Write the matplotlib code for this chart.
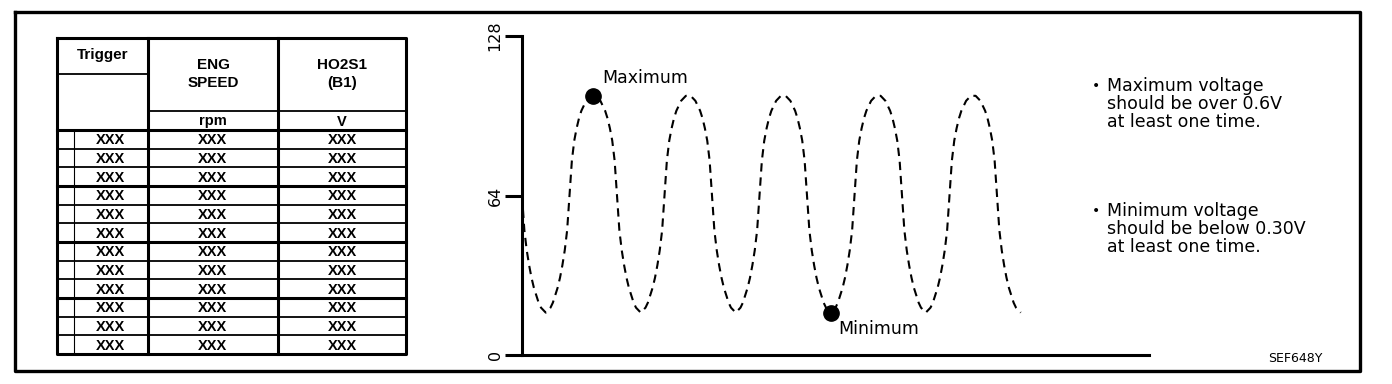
import matplotlib
matplotlib.use("Agg")
import numpy as np
import matplotlib.pyplot as plt

# table contents
headers = ["Trigger", "ENG\nSPEED", "HO2S1\n(B1)"]
units = ["", "rpm", "V"]
rows = [["XXX", "XXX", "XXX"] for _ in range(12)]

# HO2S1 trace, one sample every 0.25 time units
t = np.arange(0, 52.75, 0.25)
v = [
    64, 50, 42, 36, 31, 27, 24, 21, 19, 18, 17, 18, 19, 21, 24, 27, 31, 36, 42, 50,
    64, 78, 86, 91, 95, 98, 100, 102, 103, 104, 104, 104, 103, 102, 100, 98, 95, 91, 86, 78,
    64, 50, 42, 36, 31, 27, 24, 21, 19, 18, 17, 18, 19, 21, 24, 27, 31, 36, 42, 50,
    64, 78, 86, 91, 95, 98, 100, 102, 103, 104, 104, 104, 103, 102, 100, 98, 95, 91, 86, 78,
    64, 50, 42, 36, 31, 27, 24, 21, 19, 18, 17, 18, 19, 21, 24, 27, 31, 36, 42, 50,
    64, 78, 86, 91, 95, 98, 100, 102, 103, 104, 104, 104, 103, 102, 100, 98, 95, 91, 86, 78,
    64, 50, 42, 36, 31, 27, 24, 21, 19, 18, 17, 18, 19, 21, 24, 27, 31, 36, 42, 50,
    64, 78, 86, 91, 95, 98, 100, 102, 103, 104, 104, 104, 103, 102, 100, 98, 95, 91, 86, 78,
    64, 50, 42, 36, 31, 27, 24, 21, 19, 18, 17, 18, 19, 21, 24, 27, 31, 36, 42, 50,
    64, 78, 86, 91, 95, 98, 100, 102, 103, 104, 104, 104, 103, 102, 100, 98, 95, 91, 86, 78,
    64, 50, 42, 36, 31, 27, 24, 21, 19, 18, 17,
]
peak = (7.5, 104)
trough = (32.5, 17)
yticks = [0, 64, 128]

notes = [
    "Maximum voltage\nshould be over 0.6V\nat least one time.",
    "Minimum voltage\nshould be below 0.30V\nat least one time.",
]
fig_code = "SEF648Y"

W, H = 1392, 384
fig = plt.figure(figsize=(W / 100, H / 100), dpi=100)

# background axes in pixel coords for frame, table and notes
bg = fig.add_axes([0, 0, 1, 1])
bg.set_xlim(0, W)
bg.set_ylim(H, 0)
bg.axis("off")

bg.plot([15, 1360, 1360, 15, 15], [12, 12, 371, 371, 12], color="k", lw=2.4)

# table grid
xs = [57, 148, 278, 406]
top, trig_y, unit_y, head_y, bot = 38, 74, 111, 130, 354
rh = (bot - head_y) / len(rows)
thick, thin = 2.2, 1.3

bg.plot([xs[0], xs[-1], xs[-1], xs[0], xs[0]], [top, top, bot, bot, top], color="k", lw=thick)
for x in xs[1:-1]:
    bg.plot([x, x], [top, bot], color="k", lw=thick)
bg.plot([xs[0], xs[1]], [trig_y, trig_y], color="k", lw=thin)
bg.plot([xs[1], xs[-1]], [unit_y, unit_y], color="k", lw=thin)
bg.plot([xs[0], xs[-1]], [head_y, head_y], color="k", lw=thick)
bg.plot([74, 74], [head_y, bot], color="k", lw=0.8)
for i in range(1, len(rows)):
    y = head_y + i * rh
    bg.plot([xs[0], xs[-1]], [y, y], color="k", lw=thick if i % 3 == 0 else thin)

tfont = dict(family="Liberation Sans", weight="bold", color="k")
bg.text((xs[0] + xs[1]) / 2, 55, headers[0], ha="center", va="center", fontsize=11, **tfont)
for j in (1, 2):
    cx = (xs[j] + xs[j + 1]) / 2
    bg.text(cx, 74, headers[j], ha="center", va="center", fontsize=11, linespacing=1.4, **tfont)
    bg.text(cx, (unit_y + head_y) / 2 + 1, units[j], ha="center", va="center", fontsize=10.5, **tfont)

centers = [111, (xs[1] + xs[2]) / 2, (xs[2] + xs[3]) / 2]
for i, row in enumerate(rows):
    cy = head_y + (i + 0.5) * rh + 1
    for cx, val in zip(centers, row):
        bg.text(cx, cy, val, ha="center", va="center", fontsize=10.5, **tfont)

# notes on the right
for y0, note in zip([77, 202], notes):
    bg.text(1092, y0 + 2, "\u2022", ha="left", va="top", fontsize=10)
    bg.text(1107, y0, note, ha="left", va="top", fontsize=12.5, linespacing=1.0)

bg.text(1268, 358, fig_code, ha="left", va="center", fontsize=9)

# signal chart
ax = fig.add_axes([522 / W, (H - 355) / H, (1149 - 522) / W, (355 - 36) / H])
ax.set_xlim(0, 66)
ax.set_ylim(0, 128)
ax.patch.set_alpha(0)
for s in ("top", "right"):
    ax.spines[s].set_visible(False)
for s in ("left", "bottom"):
    ax.spines[s].set_linewidth(2.2)
ax.set_xticks([])
ax.set_yticks(yticks)
ax.set_yticklabels([str(y) for y in yticks], rotation=90, va="center")
ax.tick_params(axis="y", length=12, width=2.2, labelsize=11.5, pad=2)

ax.plot(t, v, color="k", lw=1.5, linestyle=(0, (4, 2.8)))
ax.plot(*peak, "o", color="k", ms=11)
ax.plot(*trough, "o", color="k", ms=11)
ax.annotate("Maximum", peak, xytext=(9, 18), textcoords="offset pixels",
            ha="left", va="center", fontsize=12.5)
ax.annotate("Minimum", trough, xytext=(8, -16), textcoords="offset pixels",
            ha="left", va="center", fontsize=12.5)

fig.savefig("out.png", dpi=100)
